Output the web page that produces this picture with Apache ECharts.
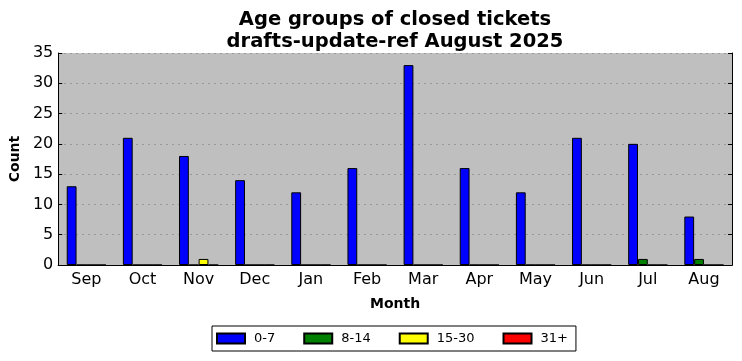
<!DOCTYPE html>
<html><head><meta charset="utf-8">
<script src="https://cdn.jsdelivr.net/npm/echarts@6/dist/echarts.min.js"></script>
<style>html,body{margin:0;padding:0;background:#fff}#c{width:742px;height:361px}</style>
</head><body><div id="c"></div>
<script>
const months = ['Sep','Oct','Nov','Dec','Jan','Feb','Mar','Apr','May','Jun','Jul','Aug'];
const seriesNames = ['0-7','8-14','15-30','31+'];
const seriesColors = ['#0000ff','#008000','#ffff00','#ff0000'];
const age0_7 = [13,21,18,14,12,16,33,16,12,21,20,8];
const age8_14 = [0,0,0,0,0,0,0,0,0,0,1,1];
const age15_30 = [0,0,1,0,0,0,0,0,0,0,0,0];
const age31 = [0,0,0,0,0,0,0,0,0,0,0,0];
const yTicks = [0,5,10,15,20,25,30,35];
const titleText = 'Age groups of closed tickets\ndrafts-update-ref August 2025';
const allData = [age0_7, age8_14, age15_30, age31];

const font = 'DejaVu Sans';
const chart = echarts.init(document.getElementById('c'));
chart.setOption({
  animation: false,
  backgroundColor: '#ffffff',
  title: {
    text: titleText, left: 390, top: 4, textAlign: 'center',
    textStyle: {fontFamily: font, fontWeight: 'bold', fontSize: 19.5, color: '#000', lineHeight: 22}
  },
  legend: {
    data: seriesNames, left: 212, top: 326, width: 365,
    itemWidth: 28, itemHeight: 10, itemGap: 28,
    borderColor: '#000', borderWidth: 1, padding: [6, 8, 6, 4],
    textStyle: {fontFamily: font, fontSize: 13, color: '#000', padding: [0,0,0,4]},
    icon: 'rect'
  },
  grid: {left: 56, right: 10, top: 53, bottom: 96, backgroundColor: '#bfbfbf', show: true, borderWidth: 0},
  xAxis: [{
    type: 'category', data: months, position: 'bottom',
    name: 'Month', nameLocation: 'middle', nameGap: 32,
    nameTextStyle: {fontFamily: font, fontWeight: 'bold', fontSize: 14, color: '#000'},
    axisLine: {lineStyle: {color: '#000', width: 1}},
    axisTick: {inside: true, alignWithLabel: true, length: 4, lineStyle: {color: '#000'}},
    axisLabel: {fontFamily: font, fontSize: 16, color: '#000', margin: 7}
  }, {
    type: 'category', data: months, position: 'top',
    axisLine: {lineStyle: {color: '#000', width: 1}},
    axisTick: {inside: true, alignWithLabel: true, length: 4, lineStyle: {color: '#000'}},
    axisLabel: {show: false}
  }],
  yAxis: [{
    type: 'value', min: 0, max: 35, interval: 5,
    name: 'Count', nameLocation: 'middle', nameGap: 31,
    nameTextStyle: {fontFamily: font, fontWeight: 'bold', fontSize: 14, color: '#000'},
    axisLine: {show: true, lineStyle: {color: '#000', width: 1}},
    axisTick: {show: true, inside: true, length: 4, lineStyle: {color: '#000'}},
    axisLabel: {fontFamily: font, fontSize: 16, color: '#000', margin: 5},
    splitLine: {show: true, lineStyle: {color: '#808080', type: [1.5, 4.5], width: 0.8}}
  }, {
    type: 'value', min: 0, max: 35, interval: 5, position: 'right',
    axisLine: {show: true, lineStyle: {color: '#000', width: 1}},
    axisTick: {show: true, inside: true, length: 4, lineStyle: {color: '#000'}},
    axisLabel: {show: false},
    splitLine: {show: false}
  }],
  series: seriesNames.map((n, i) => ({
    name: n, type: 'bar', data: allData[i],
    barWidth: 9.8, barGap: '0%',
    itemStyle: {color: seriesColors[i], borderColor: '#000', borderWidth: 1}
  }))
});
</script></body></html>
